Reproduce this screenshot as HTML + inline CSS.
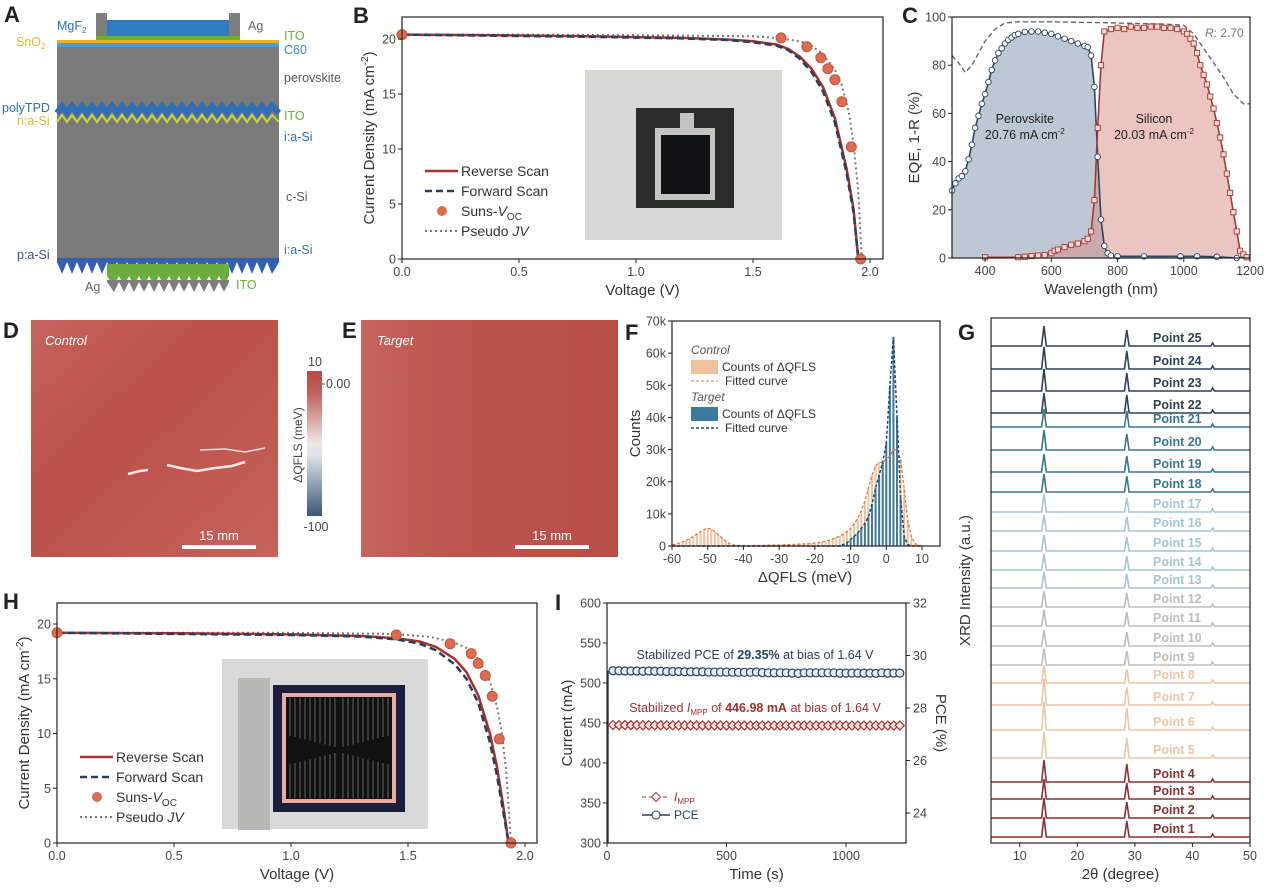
<!DOCTYPE html>
<html><head><meta charset="utf-8">
<style>
body{margin:0;background:#fff;}
svg{display:block;font-family:"Liberation Sans",sans-serif;}
.tk{font-size:12.5px;fill:#444;}
.at{font-size:15px;fill:#333;}
.pl{font-size:22px;font-weight:bold;fill:#222;font-family:"Liberation Sans Narrow","Liberation Sans",sans-serif;}
</style></head>
<body>
<svg id="fig" width="1269" height="895" viewBox="0 0 1269 895">
<!-- Panel A: device stack -->
<g>
<text class="pl" x="4" y="22">A</text>
<rect x="96" y="13" width="11" height="24" fill="#7d7d7d"/>
<rect x="229" y="13" width="11" height="24" fill="#7d7d7d"/>
<rect x="107" y="20" width="122" height="16" fill="#2f7ac0"/>
<rect x="96" y="36" width="144" height="4" fill="#6cae3c"/>
<rect x="57" y="40" width="222" height="3" fill="#e6b422"/>
<rect x="57" y="43" width="222" height="4" fill="#4a9ad4"/>
<rect x="57" y="47" width="222" height="215" fill="#7a7a7a"/>
<polyline fill="none" stroke="#2f6fb5" stroke-width="6" points="57,113 62,106 67,113 72,106 77,113 82,106 87,113 92,106 97,113 102,106 107,113 112,106 117,113 122,106 127,113 132,106 137,113 142,106 147,113 152,106 157,113 162,106 167,113 172,106 177,113 182,106 187,113 192,106 197,113 202,106 207,113 212,106 217,113 222,106 227,113 232,106 237,113 242,106 247,113 252,106 257,113 262,106 267,113 272,106 279,113"/>
<polyline fill="none" stroke="#c8d43a" stroke-width="2" points="57,122 62,115 67,122 72,115 77,122 82,115 87,122 92,115 97,122 102,115 107,122 112,115 117,122 122,115 127,122 132,115 137,122 142,115 147,122 152,115 157,122 162,115 167,122 172,115 177,122 182,115 187,122 192,115 197,122 202,115 207,122 212,115 217,122 222,115 227,122 232,115 237,122 242,115 247,122 252,115 257,122 262,115 267,122 272,115 279,122"/>
<polygon fill="#3560b0" points="57,258 57,262 62,274 67,262 72,274 77,262 82,274 87,262 92,274 97,262 102,274 107,262 112,274 117,262 122,274 127,262 132,274 137,262 142,274 147,262 152,274 157,262 162,274 167,262 172,274 177,262 182,274 187,262 192,274 197,262 202,274 207,262 212,274 217,262 222,274 227,262 232,274 237,262 242,274 247,262 252,274 257,262 262,274 267,262 272,274 279,262 279,258"/>
<polygon fill="#6cae3c" points="107,264 229,264 229,276 224,286 219,276 214,286 209,276 204,286 199,276 194,286 189,276 184,286 179,276 174,286 169,276 164,286 159,276 154,286 149,276 144,286 139,276 134,286 129,276 124,286 119,276 114,286 107,276"/>
<polygon fill="#7d7d7d" points="107,280 229,280 229,282 224,292 219,282 214,292 209,282 204,292 199,282 194,292 189,282 184,292 179,282 174,292 169,282 164,292 159,282 154,292 149,282 144,292 139,282 134,292 129,282 124,292 119,282 114,292 107,282"/>
<g font-size="12.5">
<text x="57" y="30" fill="#2f6fb5">MgF<tspan font-size="8" dy="3">2</tspan></text>
<text x="248" y="30" fill="#666">Ag</text>
<text x="284" y="40" fill="#6cae3c">ITO</text>
<text x="284" y="54" fill="#3a8ac8">C60</text>
<text x="16" y="46" fill="#e6b422">SnO<tspan font-size="8" dy="3">2</tspan></text>
<text x="284" y="82" fill="#555">perovskite</text>
<text x="2" y="112" fill="#2f6fb5">polyTPD</text>
<text x="17" y="125" fill="#e6b422">n:a-Si</text>
<text x="284" y="120" fill="#6cae3c">ITO</text>
<text x="284" y="141" fill="#2f6fb5">i:a-Si</text>
<text x="286" y="201" fill="#555">c-Si</text>
<text x="17" y="259" fill="#2f4f9a">p:a-Si</text>
<text x="284" y="254" fill="#2f6fb5">i:a-Si</text>
<text x="85" y="291" fill="#666">Ag</text>
<text x="236" y="289" fill="#6cae3c">ITO</text>
</g>
</g>

<!-- Panel D/E heatmaps -->
<defs>
<linearGradient id="hm" x1="0" y1="0" x2="1" y2="1">
<stop offset="0" stop-color="#c4645d"/><stop offset="0.4" stop-color="#bb5049"/><stop offset="1" stop-color="#c4635b"/>
</linearGradient>
<linearGradient id="hm2" x1="0" y1="0" x2="1" y2="0">
<stop offset="0" stop-color="#c4655e"/><stop offset="0.3" stop-color="#bd5650"/><stop offset="1" stop-color="#b84d47"/>
</linearGradient>
<linearGradient id="cb" x1="0" y1="0" x2="0" y2="1">
<stop offset="0" stop-color="#b34a44"/><stop offset="0.15" stop-color="#c0625b"/><stop offset="0.5" stop-color="#f0e6e6"/><stop offset="0.58" stop-color="#dfe3e8"/><stop offset="1" stop-color="#3a5677"/>
</linearGradient>
</defs>
<g>
<text class="pl" x="3" y="338">D</text>
<rect x="31" y="320" width="247" height="237" fill="url(#hm)"/>
<polyline points="128,474 140,471 148,470" fill="none" stroke="#f4e8e6" stroke-width="2.5"/>
<polyline points="167,465 180,468 197,471 215,468 232,466 245,462" fill="none" stroke="#f4e8e6" stroke-width="2.5"/>
<polyline points="200,450 225,449 245,452 265,448" fill="none" stroke="#eed8d6" stroke-width="1.5"/>
<text x="45" y="345" font-size="13" font-style="italic" fill="#fff">Control</text>
<line x1="182" y1="547" x2="256" y2="547" stroke="#fff" stroke-width="4"/>
<text x="219" y="540" font-size="13" fill="#fff" text-anchor="middle">15 mm</text>
</g>
<g>
<rect x="307" y="371" width="15" height="145" fill="url(#cb)"/>
<line x1="322" y1="384" x2="325" y2="384" stroke="#444"/>
<text x="315" y="366" class="tk" font-size="11" text-anchor="middle">10</text>
<text x="326" y="388" class="tk" font-size="11">0.00</text>
<text x="316" y="531" class="tk" font-size="11" text-anchor="middle">-100</text>
<text transform="translate(302,445) rotate(-90)" font-size="12" fill="#444" text-anchor="middle">ΔQFLS (meV)</text>
</g>
<g>
<text class="pl" x="342" y="338">E</text>
<rect x="361" y="320" width="257" height="237" fill="url(#hm2)"/>
<text x="377" y="345" font-size="13" font-style="italic" fill="#fff">Target</text>
<line x1="515" y1="547" x2="589" y2="547" stroke="#fff" stroke-width="4"/>
<text x="552" y="540" font-size="13" fill="#fff" text-anchor="middle">15 mm</text>
</g>
<g id="dyn"></g>
</svg>
<script>
// ===== Panel B data =====
const bRevV=[0,0.4,0.8,1.2,1.4,1.5,1.6,1.65,1.7,1.75,1.8,1.85,1.9,1.93,1.95];
const bRevJ=[20.4,20.35,20.25,20.1,19.95,19.8,19.5,19.1,18.4,17.3,15.6,12.8,8.2,4.5,0];
const bFwdV=[0,0.4,0.8,1.2,1.4,1.5,1.6,1.65,1.7,1.75,1.8,1.85,1.9,1.93,1.95];
const bFwdJ=[20.4,20.3,20.2,20.05,19.9,19.7,19.4,19.0,18.2,17.0,15.2,12.4,7.8,4.2,0];
const bPsV=[0,0.5,1.0,1.5,1.6,1.7,1.75,1.8,1.85,1.88,1.91,1.93,1.95,1.965];
const bPsJ=[20.4,20.4,20.35,20.25,20.1,19.8,19.4,18.6,17.2,15.8,13.3,10.5,6.0,0];
const bSunsV=[0,1.62,1.73,1.79,1.82,1.85,1.88,1.92,1.96];
const bSunsJ=[20.4,20.1,19.3,18.3,17.3,16.3,14.3,10.2,0];
const jvXTicks=[0,0.5,1.0,1.5,2.0];
const jvYTicks=[0,5,10,15,20];
// ===== Panel H data =====
const hRevV=[0,0.5,1.0,1.3,1.45,1.55,1.62,1.7,1.75,1.8,1.85,1.88,1.91,1.93];
const hRevJ=[19.2,19.15,19.05,18.9,18.7,18.4,17.9,16.8,15.6,13.5,10.0,7.0,3.0,0];
const hFwdV=[0,0.5,1.0,1.3,1.45,1.55,1.62,1.7,1.75,1.8,1.85,1.88,1.91,1.93];
const hFwdJ=[19.2,19.1,19.0,18.85,18.6,18.2,17.6,16.3,15.0,12.8,9.2,6.2,2.5,0];
const hPsV=[0,0.5,1.0,1.4,1.5,1.6,1.7,1.75,1.8,1.85,1.88,1.9,1.92,1.94];
const hPsJ=[19.2,19.2,19.2,19.1,19.0,18.8,18.3,17.8,16.8,14.8,12.5,10.2,6.5,0];
const hSunsV=[0,1.45,1.68,1.77,1.8,1.83,1.86,1.89,1.94];
const hSunsJ=[19.2,19.0,18.2,17.3,16.4,15.3,13.4,9.5,0];
// ===== Panel C data =====
const pvkWl=[300,310,320,330,340,350,360,370,380,390,400,410,420,430,440,450,460,470,480,490,500,520,540,560,580,600,620,640,660,680,700,710,720,730,740,750,760,770,780,800,880,990,1040,1100,1160];
const pvkEqe=[28,31,33,34,36,41,47,54,59,64,68,73,78,82,85,87,89,90.5,91.5,92.5,93,93.8,94,94,93.5,93,92,91,90,89,88,87.5,84,71,42,16,5,2,1,0.7,0.7,0.7,0.7,0.5,0];
const siWl=[400,500,520,540,560,580,600,610,620,640,660,680,700,710,720,730,740,750,760,780,800,820,840,860,880,900,920,940,960,980,1000,1010,1020,1030,1040,1050,1060,1070,1080,1090,1100,1110,1120,1130,1140,1150,1160,1170,1180,1190];
const siEqe=[0.3,0.3,0.5,0.8,1,1.2,2,3,3.5,4.5,5.5,6,7,8,11,24,54,80,94,95,95.5,95,96,95.5,95.5,96,96,95.5,95.5,95,94,93,91,89,85,80,76,72,67,62,56,50,43,35,27,19,11,3,1.5,0.3];
const rWl=[300,320,340,360,380,400,430,460,500,600,800,950,1000,1030,1060,1090,1120,1150,1180,1200];
const oneMinusR=[84,81,77,80,85,90,95,97.5,98,98,97.5,97,96.5,93,87,81,75,68,64,64];
const cXTicks=[400,600,800,1000,1200];
const cYTicks=[0,20,40,60,80,100];
// ===== Panel F data =====
const fBins=[-60,-59,-58,-57,-56,-55,-54,-53,-52,-51,-50,-49,-48,-47,-46,-45,-44,-43,-42,-41,-40,-39,-38,-37,-36,-35,-34,-33,-32,-31,-30,-29,-28,-27,-26,-25,-24,-23,-22,-21,-20,-19,-18,-17,-16,-15,-14,-13,-12,-11,-10,-9,-8,-7,-6,-5,-4,-3,-2,-1,0,1,2,3,4,5,6,7,8,9,10];
const controlCounts=[300,600,900,1300,1800,2300,3000,3800,4500,5200,5500,5300,4500,3500,2500,1500,800,400,200,150,150,120,120,150,150,200,200,250,250,300,300,350,400,450,500,550,600,650,700,800,900,1000,1200,1500,1800,2200,2600,3100,3700,4500,5500,7000,8500,11000,14000,18000,22000,25000,26000,26000,27000,28000,30000,30000,27000,18000,8000,3000,800,200,0];
const targetCounts=[0,0,0,0,0,0,0,0,0,0,0,0,0,0,0,0,0,0,0,0,0,0,0,0,0,0,0,0,0,0,0,0,0,0,0,0,0,0,0,0,0,0,0,0,0,0,0,0,500,1000,2000,3000,4000,5500,7000,9000,13000,18000,22000,26000,32000,50000,65000,40000,15000,3000,500,0,0,0,0];
const fXTicks=[-60,-50,-40,-30,-20,-10,0,10];
const fYTicks=[0,10000,20000,30000,40000,50000,60000,70000];
const fYLabels=["0","10k","20k","30k","40k","50k","60k","70k"];
// ===== Panel G data =====
const gPoints=[1,2,3,4,5,6,7,8,9,10,11,12,13,14,15,16,17,18,19,20,21,22,23,24,25];
const gOffsets=[6,25,44,61,85,113,138,160,178,197,217,236,255,273,292,312,331,351,371,393,416,430,452,474,497];
const gPeak1=[20,20,20,22,26,28,26,18,16,16,16,16,16,16,16,16,18,18,18,20,18,20,22,22,20];
const gPeak2=[16,16,16,18,20,22,18,14,14,14,14,14,14,14,14,14,14,16,16,16,16,18,18,18,16];
const gColors=["#8e2f2f","#8e2f2f","#8e2f2f","#8e2f2f","#eec4a6","#eec4a6","#eec4a6","#eec4a6","#bdbdbd","#bdbdbd","#bdbdbd","#bdbdbd","#a3c5d4","#a3c5d4","#a3c5d4","#a3c5d4","#a3c5d4","#3b7590","#3b7590","#3b7590","#3b7590","#2f4159","#2f4159","#2f4159","#2f4159"];
const gXTicks=[10,20,30,40,50];
// ===== Panel I data =====
const iTime=[25,50,75,100,125,150,175,200,225,250,275,300,325,350,375,400,425,450,475,500,525,550,575,600,625,650,675,700,725,750,775,800,825,850,875,900,925,950,975,1000,1025,1050,1075,1100,1125,1150,1175,1200,1225];
const iPce=[29.42,29.42,29.41,29.41,29.41,29.4,29.41,29.4,29.4,29.39,29.39,29.39,29.38,29.38,29.38,29.38,29.37,29.37,29.37,29.37,29.36,29.36,29.36,29.36,29.37,29.35,29.34,29.34,29.34,29.34,29.33,29.32,29.34,29.34,29.34,29.34,29.34,29.34,29.33,29.33,29.33,29.33,29.33,29.33,29.32,29.34,29.33,29.33,29.33];
const iImpp=[447.5,447.4,447.4,447.3,447.3,447.2,447.2,447.2,447.1,447.1,447.1,447.0,447.0,447.0,447.0,446.9,446.9,446.9,446.9,446.9,446.9,446.8,446.8,446.8,446.8,446.8,446.8,446.8,446.8,446.8,446.8,446.8,446.8,446.8,446.8,446.8,446.8,446.8,446.8,446.8,446.8,446.8,446.8,446.8,446.8,446.8,446.8,446.8,446.8];
const iXTicks=[0,500,1000];
const iYTicks=[300,350,400,450,500,550,600];
const iY2Ticks=[24,26,28,30,32];

const NS="http://www.w3.org/2000/svg";
const root=document.getElementById('dyn');
function mk(tag,attrs,parent){const e=document.createElementNS(NS,tag);for(const k in attrs)e.setAttribute(k,attrs[k]);(parent||root).appendChild(e);return e;}
function txt(s,attrs,parent){const e=mk('text',attrs,parent);e.textContent=s;return e;}
function lin(d0,d1,r0,r1){return v=>r0+(v-d0)*(r1-r0)/(d1-d0);}
function pathOf(xs,ys,sx,sy){return xs.map((v,i)=>(i?'L':'M')+sx(v).toFixed(1)+','+sy(ys[i]).toFixed(1)).join('');}

function frame(g,x0,y0,x1,y1,name){
  const r=mk('rect',{x:x0,y:y0,width:x1-x0,height:y1-y0,fill:'none',stroke:'#222','stroke-width':1.2},g);
  
  
}
function xAxis(g,ticks,labels,sx,y,name){
  ticks.forEach((t,i)=>{
    const l=mk('line',{x1:sx(t),x2:sx(t),y1:y,y2:y+4,stroke:'#222'},g);
    
    
    const tx=txt(labels?labels[i]:String(t),{x:sx(t),y:y+17,class:'tk','text-anchor':'middle'},g);
    
    
  });
}
function yAxis(g,ticks,labels,sy,x,name,right){
  ticks.forEach((t,i)=>{
    const l=mk('line',{x1:x,x2:right?x+4:x-4,y1:sy(t),y2:sy(t),stroke:'#222'},g);
    
    
    const tx=txt(labels?labels[i]:String(t),{x:right?x+7:x-6,y:sy(t)+4.5,class:'tk','text-anchor':right?'start':'end'},g);
    
    
  });
}

// ===== JV panel builder =====
function jvPanel(id,L,T,R,B,vMax,jTop,rev,fwd,ps,suns,legX,legY,label,labX,photo){
  const g=mk('g',{});
  
  
  const sx=lin(0,2.0,L,vMax), sy=lin(0,20,B,jTop);
  const pl=txt(label,{x:labX,y:T+6,class:'pl'},g);
  
  
  photo(g);
  const p1=mk('path',{d:pathOf(ps[0],ps[1],sx,sy),fill:'none',stroke:'#777','stroke-width':2,'stroke-dasharray':'2,3'},g);
  
  
  const p2=mk('path',{d:pathOf(rev[0],rev[1],sx,sy),fill:'none',stroke:'#a5302d','stroke-width':2.5},g);
  
  
  const p3=mk('path',{d:pathOf(fwd[0],fwd[1],sx,sy),fill:'none',stroke:'#25405f','stroke-width':2.5,'stroke-dasharray':'7,4'},g);
  
  
  suns[0].forEach((v,i)=>{
    const c=mk('circle',{cx:sx(v),cy:sy(suns[1][i]),r:5,fill:'#dd6b4f',stroke:'#c4553d'},g);
    
    
  });
  frame(g,L,T,R,B,id+'-plot-frame');
  xAxis(g,jvXTicks,['0.0','0.5','1.0','1.5','2.0'],sx,B,id+'-x-axis');
  yAxis(g,jvYTicks,null,sy,L,id+'-y-axis');
  const xt=txt('Voltage (V)',{x:(L+R)/2,y:B+36,class:'at','text-anchor':'middle'},g);
  
  
  const yt=mk('text',{transform:`translate(${L-28},${(T+B)/2}) rotate(-90)`,class:'at','text-anchor':'middle'},g);
  yt.innerHTML='Current Density (mA cm<tspan font-size="10" dy="-6">-2</tspan><tspan dy="6">)</tspan>';
  
  
  // legend
  const lg=mk('g',{},g);
  
  
  const items=[['Reverse Scan','rev'],['Forward Scan','fwd'],['Suns-V','suns'],['Pseudo JV','ps']];
  items.forEach((it,i)=>{
    const y=legY+i*20;
    if(it[1]==='rev'){const l=mk('line',{x1:legX,x2:legX+33,y1:y,y2:y,stroke:'#a5302d','stroke-width':2.5},lg);}
    if(it[1]==='fwd'){const l=mk('line',{x1:legX,x2:legX+33,y1:y,y2:y,stroke:'#25405f','stroke-width':2.5,'stroke-dasharray':'7,4'},lg);}
    if(it[1]==='suns'){const c=mk('circle',{cx:legX+17,cy:y,r:5,fill:'#dd6b4f'},lg);}
    if(it[1]==='ps'){const l=mk('line',{x1:legX,x2:legX+33,y1:y,y2:y,stroke:'#777','stroke-width':2,'stroke-dasharray':'2,3'},lg);}
    const t=mk('text',{x:legX+36,y:y+5,'font-size':14,fill:'#333'},lg);
    if(it[1]==='suns') t.innerHTML='Suns-<tspan font-style="italic">V</tspan><tspan font-size="10" dy="4">OC</tspan>';
    else if(it[1]==='ps') t.innerHTML='Pseudo <tspan font-style="italic">JV</tspan>';
    else t.textContent=it[0];
    
    
  });
}
jvPanel('b',402,17,883,259,870,39,[bRevV,bRevJ],[bFwdV,bFwdJ],[bPsV,bPsJ],[bSunsV,bSunsJ],425,171,'B',353,g=>{
  const r=mk('rect',{x:585,y:70,width:197,height:170,fill:'#d7d8d3'},g);
  mk('rect',{x:636,y:108,width:98,height:100,fill:'#2a2c29'},g);
  mk('rect',{x:655,y:128,width:60,height:72,fill:'#c4c4c2'},g);
  mk('rect',{x:680,y:113,width:14,height:16,fill:'#c4c4c2'},g);
  mk('rect',{x:661,y:135,width:49,height:59,fill:'#0f1113'},g);
});
jvPanel('h',57,603,537,843,525,624,[hRevV,hRevJ],[hFwdV,hFwdJ],[hPsV,hPsJ],[hSunsV,hSunsJ],80,757,'H',3,g=>{
  const r=mk('rect',{x:222,y:659,width:206,height:170,fill:'#d9d9d9'},g);
  mk('rect',{x:238,y:678,width:32,height:152,fill:'#b8b8b6'},g);
  mk('rect',{x:273,y:685,width:132,height:127,fill:'#1d1e3c'},g);
  mk('rect',{x:284,y:695,width:110,height:106,fill:'#111','stroke':'#e9aca2','stroke-width':4},g);
  for(let k=0;k<10;k++){const d=4+k*5;mk('path',{d:`M${339-d},${698} L${339-d},${748-d/4} M${339+d},698 L${339+d},${748-d/4} M${339-d},798 L${339-d},${752+d/4} M${339+d},798 L${339+d},${752+d/4}`,stroke:'#9a9a9a','stroke-width':0.6,fill:'none'},g);}
});

// ===== Panel C =====
(function(){
  const g=mk('g',{});
  
  
  const L=952,R=1250,T=17,B=258;
  const sx=lin(300,1200,L,R), sy=lin(0,100,B,T);
  const lb=txt('C',{x:902,y:23,class:'pl'},g);
  const a1=mk('path',{d:pathOf(pvkWl,pvkEqe,sx,sy)+`L${sx(1160)},${B}L${sx(300)},${B}Z`,fill:'#7d8fa9','fill-opacity':0.5,stroke:'none'},g);
  
  const a2=mk('path',{d:pathOf(siWl,siEqe,sx,sy)+`L${sx(1190)},${B}L${sx(400)},${B}Z`,fill:'#d88c84','fill-opacity':0.5,stroke:'none'},g);
  
  const l1=mk('path',{d:pathOf(pvkWl,pvkEqe,sx,sy),fill:'none',stroke:'#2b4660','stroke-width':1.6},g);
  
  const l2=mk('path',{d:pathOf(siWl,siEqe,sx,sy),fill:'none',stroke:'#a33834','stroke-width':1.6},g);
  
  const l3=mk('path',{d:pathOf(rWl,oneMinusR,sx,sy),fill:'none',stroke:'#666','stroke-width':1.4,'stroke-dasharray':'5,3'},g);
  
  pvkWl.forEach((w,i)=>{const c=mk('circle',{cx:sx(w),cy:sy(pvkEqe[i]),r:2.8,fill:'#fff',stroke:'#2b4660','stroke-width':0.9},g);});
  siWl.forEach((w,i)=>{const c=mk('rect',{x:sx(w)-2.6,y:sy(siEqe[i])-2.6,width:5.2,height:5.2,fill:'#f6d8d2',stroke:'#a33834','stroke-width':0.9},g);});
  frame(g,L,T,R,B,'c-plot-frame');
  xAxis(g,cXTicks,null,sx,B,'c-x-axis');
  yAxis(g,cYTicks,null,sy,L,'c-y-axis');
  const xt=txt('Wavelength (nm)',{x:(L+R)/2,y:B+36,class:'at','text-anchor':'middle'},g);
  const yt=txt('EQE, 1-R (%)',{transform:`translate(${L-33},${(T+B)/2}) rotate(-90)`,class:'at','text-anchor':'middle'},g);
  const t1=mk('text',{x:sx(520),y:sy(56),'font-size':12.5,fill:'#222','text-anchor':'middle'},g);t1.innerHTML='<tspan x="'+sx(520)+'">Perovskite</tspan><tspan x="'+sx(520)+'" dy="16">20.76 mA cm<tspan font-size="8" dy="-5">-2</tspan></tspan>';
  
  const t2=mk('text',{x:sx(910),y:sy(56),'font-size':12.5,fill:'#222','text-anchor':'middle'},g);t2.innerHTML='<tspan x="'+sx(910)+'">Silicon</tspan><tspan x="'+sx(910)+'" dy="16">20.03 mA cm<tspan font-size="8" dy="-5">-2</tspan></tspan>';
  
  const t3=mk('text',{x:1205,y:37,'font-size':12,fill:'#777'},g);t3.innerHTML='<tspan font-style="italic">R</tspan>: 2.70';
  
})();

// ===== Panel F =====
(function(){
  const g=mk('g',{});
  
  
  const L=672,R=940,T=321,B=546;
  const sx=lin(-60,10,L,922), sy=lin(0,70000,B,T);
  const lb=txt('F',{x:625,y:340,class:'pl'},g);
  const bw=(sx(1)-sx(0))*0.55;
  fBins.forEach((b,i)=>{
    if(controlCounts[i]>0){const r=mk('rect',{x:sx(b)-bw/2,y:sy(controlCounts[i]),width:bw,height:B-sy(controlCounts[i]),fill:'#f0c19f'},g);}
  });
  fBins.forEach((b,i)=>{
    if(targetCounts[i]>0){const r=mk('rect',{x:sx(b)-bw/2,y:sy(targetCounts[i]),width:bw,height:B-sy(targetCounts[i]),fill:'#3b7a9c'},g);}
  });
  const c1=mk('path',{d:pathOf(fBins,controlCounts,sx,sy),fill:'none',stroke:'#e07a3a','stroke-width':1.3,'stroke-dasharray':'3,2'},g);
  
  const c2=mk('path',{d:pathOf(fBins,targetCounts,sx,sy),fill:'none',stroke:'#1f4a6a','stroke-width':1.5,'stroke-dasharray':'3,2'},g);
  
  frame(g,L,T,R,B,'f-plot-frame');
  xAxis(g,fXTicks,null,sx,B,'f-x-axis');
  yAxis(g,fYTicks,fYLabels,sy,L,'f-y-axis');
  const xt=txt('ΔQFLS (meV)',{x:805,y:582,class:'at','text-anchor':'middle'},g);
  const yt=txt('Counts',{transform:`translate(640,${(T+B)/2}) rotate(-90)`,class:'at','text-anchor':'middle'},g);
  const lg=mk('g',{},g);
  const e1=txt('Control',{x:691,y:354,'font-size':12,'font-style':'italic',fill:'#555'},lg);
  const s1=mk('rect',{x:691,y:360,width:27,height:14,fill:'#f0c19f'},lg);
  const e2=txt('Counts of ΔQFLS',{x:722,y:371,'font-size':12,fill:'#333'},lg);
  const s2=mk('line',{x1:691,x2:718,y1:381,y2:381,stroke:'#e07a3a','stroke-dasharray':'3,2'},lg);
  const e3=txt('Fitted curve',{x:725,y:385,'font-size':12,fill:'#333'},lg);
  const e4=txt('Target',{x:691,y:401,'font-size':12,'font-style':'italic',fill:'#555'},lg);
  const s3=mk('rect',{x:691,y:407,width:27,height:14,fill:'#3b7a9c'},lg);
  const e5=txt('Counts of ΔQFLS',{x:722,y:418,'font-size':12,fill:'#333'},lg);
  const s4=mk('line',{x1:691,x2:718,y1:428,y2:428,stroke:'#1f4a6a','stroke-width':1.5,'stroke-dasharray':'3,2'},lg);
  const e6=txt('Fitted curve',{x:725,y:432,'font-size':12,fill:'#333'},lg);
})();

// ===== Panel G =====
(function(){
  const g=mk('g',{});
  
  
  const L=991,R=1250,T=318,B=843;
  const sx=lin(5,50,L,R);
  const sy=v=>B-v;
  const lb=txt('G',{x:958,y:340,class:'pl'},g);
  gPoints.forEach((p,i)=>{
    const base=gOffsets[i];
    const pts=[[5,0],[13.8,0],[14.2,gPeak1[i]],[14.6,0],[28.2,0],[28.6,gPeak2[i]],[29.0,0],[43.2,0],[43.5,3],[43.8,0],[50,0]];
    const d=pts.map((q,k)=>(k?'L':'M')+sx(q[0]).toFixed(1)+','+sy(base+q[1]).toFixed(1)).join('');
    const l=mk('path',{d:d,fill:'none',stroke:gColors[i],'stroke-width':1.6},g);
    
    
    const t=txt('Point '+p,{x:1153,y:sy(base)-4,'font-size':12.5,'font-weight':'bold',fill:gColors[i]},g);
    
    
  });
  frame(g,L,T,R,B,'g-plot-frame');
  xAxis(g,gXTicks,null,sx,B,'g-x-axis');
  const xt=txt('2θ (degree)',{x:(L+R)/2,y:B+36,class:'at','text-anchor':'middle'},g);
  const yt=txt('XRD Intensity (a.u.)',{transform:`translate(970,${(T+B)/2}) rotate(-90)`,class:'at','text-anchor':'middle'},g);
})();

// ===== Panel I =====
(function(){
  const g=mk('g',{});
  
  
  const L=607,R=906,T=603,B=843;
  const sx=lin(0,1000,L,846), sy=lin(300,600,B,T), sy2=lin(32,24,T,813);
  const lb=txt('I',{x:555,y:610,class:'pl'},g);
  const v=mk('line',{x1:L+1,x2:L+1,y1:B,y2:sy2(iPce[0]),stroke:'#25405f','stroke-width':1.5},g);
  const pl=mk('path',{d:pathOf(iTime,iPce,sx,sy2),fill:'none',stroke:'#25405f','stroke-width':1},g);
  const il=mk('path',{d:pathOf(iTime,iImpp,sx,sy),fill:'none',stroke:'#a5302d','stroke-width':1,'stroke-dasharray':'3,2'},g);
  iTime.forEach((t,i)=>{
    const c=mk('circle',{cx:sx(t),cy:sy2(iPce[i]),r:4,fill:'#e6eef3',stroke:'#25405f','stroke-width':1.2},g);
    const x=sx(t),y=sy(iImpp[i]);
    const d=mk('polygon',{points:`${x},${y-4.5} ${x+4.5},${y} ${x},${y+4.5} ${x-4.5},${y}`,fill:'#fbe9e4',stroke:'#a5302d','stroke-width':1.2},g);
  });
  frame(g,L,T,R,B,'i-plot-frame');
  xAxis(g,iXTicks,null,sx,B,'i-x-axis');
  yAxis(g,iYTicks,null,sy,L,'i-y-axis');
  yAxis(g,iY2Ticks,null,sy2,R,'i-y2-axis',true);
  const xt=txt('Time (s)',{x:(L+R)/2,y:B+36,class:'at','text-anchor':'middle'},g);
  const yt=txt('Current (mA)',{transform:`translate(572,${(T+B)/2}) rotate(-90)`,class:'at','text-anchor':'middle'},g);
  const y2=txt('PCE (%)',{transform:`translate(936,${(T+B)/2}) rotate(90)`,class:'at','text-anchor':'middle'},g);
  const a1=mk('text',{x:755,y:659,'font-size':12.5,fill:'#25405f','text-anchor':'middle'},g);a1.innerHTML='Stabilized PCE of <tspan font-weight="bold">29.35%</tspan> at bias of 1.64 V';
  
  const a2=mk('text',{x:755,y:712,'font-size':12.5,fill:'#a5302d','text-anchor':'middle'},g);a2.innerHTML='Stabilized <tspan font-style="italic">I</tspan><tspan font-size="8" dy="3">MPP</tspan><tspan dy="-3"> of </tspan><tspan font-weight="bold">446.98 mA</tspan> at bias of 1.64 V';
  
  const lg=mk('g',{},g);
  const s1=mk('line',{x1:642,x2:670,y1:797,y2:797,stroke:'#a5302d','stroke-dasharray':'4,3'},lg);
  const s1b=mk('polygon',{points:'656,792.5 660.5,797 656,801.5 651.5,797',fill:'#fff',stroke:'#a5302d'},lg);
  const t1=mk('text',{x:674,y:801,'font-size':12,fill:'#a5302d'},lg);t1.innerHTML='<tspan font-style="italic">I</tspan><tspan font-size="8" dy="3">MPP</tspan>';
  
  const s2=mk('line',{x1:642,x2:670,y1:815,y2:815,stroke:'#25405f','stroke-width':1.5},lg);
  const s2b=mk('circle',{cx:656,cy:815,r:4,fill:'#fff',stroke:'#25405f'},lg);
  const t2=txt('PCE',{x:674,y:819,'font-size':12,fill:'#25405f'},lg);
})();
</script>
</body></html>
